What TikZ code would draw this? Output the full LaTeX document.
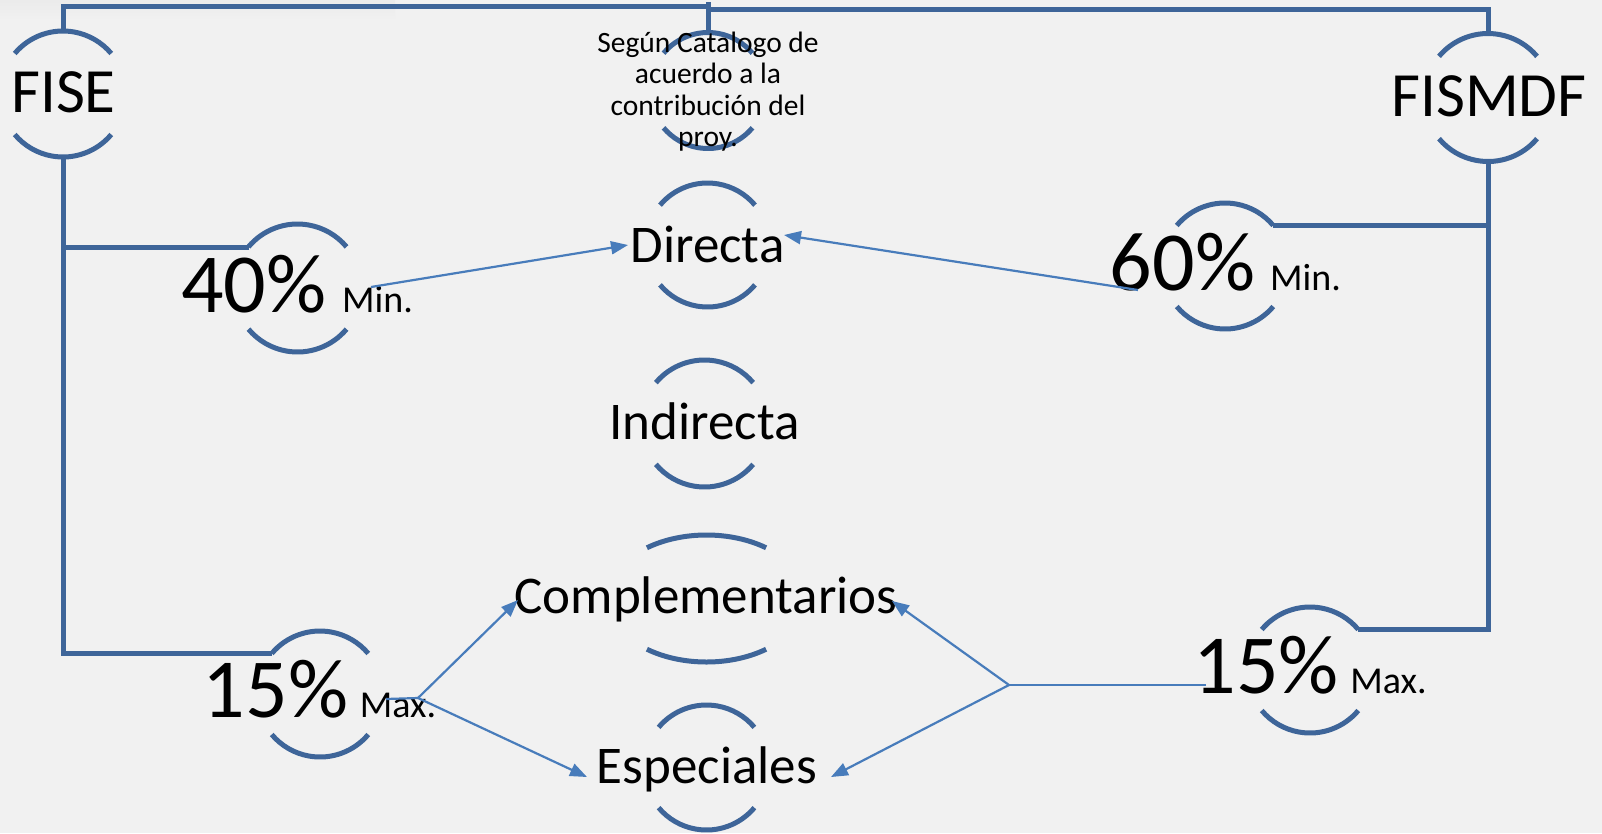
\documentclass[tikz,border=0pt]{standalone}
\usepackage{fontspec}
\setmainfont{Carlito}
\usetikzlibrary{arrows.meta,calc}
\definecolor{bg}{RGB}{241,241,241}
\definecolor{ringblue}{RGB}{62,101,153}
\definecolor{arrowblue}{RGB}{72,124,187}
\tikzset{
  ring/.style={draw=ringblue,line width=5pt},
  trunk/.style={draw=ringblue,line width=5pt,line join=miter},
  feedline/.style={draw=arrowblue,line width=2.2pt},
  feed/.style={feedline,-{Triangle[length=17pt,width=13pt]}},
  lbl/.style={inner sep=0pt,anchor=base,text=black},
  namefont/.style={lbl,font=\fontsize{63}{63}\selectfont},
  midfont/.style={lbl,font=\fontsize{53}{53}\selectfont},
  pctfont/.style={lbl,font=\fontsize{84}{84}\selectfont},
  unitfont/.style={lbl,font=\fontsize{38}{38}\selectfont},
  notefont/.style={lbl,align=center,font=\fontsize{29.5}{31.5}\selectfont}
}
\newcommand\ringarcs[4]{%
  \draw[ring] ($(#1)+({180+#4}:#2 and #3)$) arc[start angle={180+#4},end angle={360-#4},x radius=#2,y radius=#3];
  \draw[ring] ($(#1)+(#4:#2 and #3)$) arc[start angle=#4,end angle={180-#4},x radius=#2,y radius=#3];
}
\begin{document}
\begin{tikzpicture}[x=1pt,y=-1pt]
\fill[bg] (0,0) rectangle (1602,833);
\useasboundingbox (0,0) rectangle (1602,833);
\shade[top color=black!8,bottom color=bg] (0,0) rectangle (395,20);

% ring centres
\coordinate (cFise) at (63,94);
\coordinate (cSeg) at (708,90.5);
\coordinate (cDir) at (707.5,245);
\coordinate (cInd) at (704.5,423.5);
\coordinate (cCom) at (706.5,598.5);
\coordinate (cEsp) at (706.5,767.5);
\coordinate (c40) at (297.5,288);
\coordinate (c60) at (1225,266);
\coordinate (c15l) at (320,694);
\coordinate (c15r) at (1310,670);
\coordinate (cFis) at (1488,97.5);

% trunk lines
\draw[trunk] (63,31) -- (63,6) -- (708,6);
\draw[trunk] (708,2) -- (708,32.5);
\draw[trunk] (1488,33.5) -- (1488,9) -- (708,9);
\draw[trunk] (63,157) -- (63,653.5) -- (271.7,653.5);
\draw[trunk] (63,247.5) -- (248.5,247.5);
\draw[trunk] (1488,161.5) -- (1488,629.5) -- (1358.3,629.5);
\draw[trunk] (1488,225.5) -- (1273.3,225.5);

% rings
\ringarcs{cFise}{63}{63}{40}
\ringarcs{cSeg}{58}{58}{40}
\ringarcs{cDir}{62}{62}{40}
\ringarcs{cInd}{63.5}{63.5}{40}
\ringarcs{cCom}{99}{63.5}{53}
\ringarcs{cEsp}{62.5}{62.5}{40}
\ringarcs{c40}{64}{64}{40}
\ringarcs{c60}{63}{63}{40}
\ringarcs{c15l}{63}{63}{40}
\ringarcs{c15r}{63}{63}{40}
\ringarcs{cFis}{64}{64}{40}

% labels
\node[namefont] (fise) at (63.5,112) {FISE};
\node[namefont] (fismdf) at (1489,116) {FISMDF};
\node[notefont] (segun) at (708,146.5) {Según Catalogo de\\acuerdo a la\\contribución del\\proy.};
\node[midfont] (directa) at (707.5,262) {Directa};
\node[midfont] (indirecta) at (704.5,439) {Indirecta};
\node[midfont] (compl) at (706,613) {Complementarios};
\node[midfont] (espec) at (707,783) {Especiales};
\node[pctfont] (p40) at (254,312) {40\%};
\node[unitfont] (min40) at (377.5,312) {Min.};
\node[pctfont] (p60) at (1182.5,290) {60\%};
\node[unitfont] (min60) at (1305.5,290) {Min.};
\node[pctfont] (p15l) at (275.5,717) {15\%};
\node[unitfont] (max15l) at (398,717) {Max.};
\node[pctfont] (p15r) at (1266,693) {15\%};
\node[unitfont] (max15r) at (1388.5,693) {Max.};

% connector ends
\coordinate (s40) at (371,287);
\coordinate (dirL) at (628,245);
\coordinate (s60) at (1138,290);
\coordinate (dirR) at (784,235);
\coordinate (s15l) at (386,699);
\coordinate (j15l) at (418,698);
\coordinate (comL) at (518,600);
\coordinate (espL) at (587,777);
\coordinate (s15r) at (1206,685);
\coordinate (j15r) at (1009,685);
\coordinate (comR) at (892,601);
\coordinate (espR) at (831,777);

% arrows
\draw[feed] (s40) -- (dirL);
\draw[feed] (s60) -- (dirR);
\draw[feedline] (s15l) -- (j15l);
\draw[feed] (j15l) -- (comL);
\draw[feed] (j15l) -- (espL);
\draw[feedline] (s15r) -- (j15r);
\draw[feed] (j15r) -- (comR);
\draw[feed] (j15r) -- (espR);
\end{tikzpicture}
\end{document}
